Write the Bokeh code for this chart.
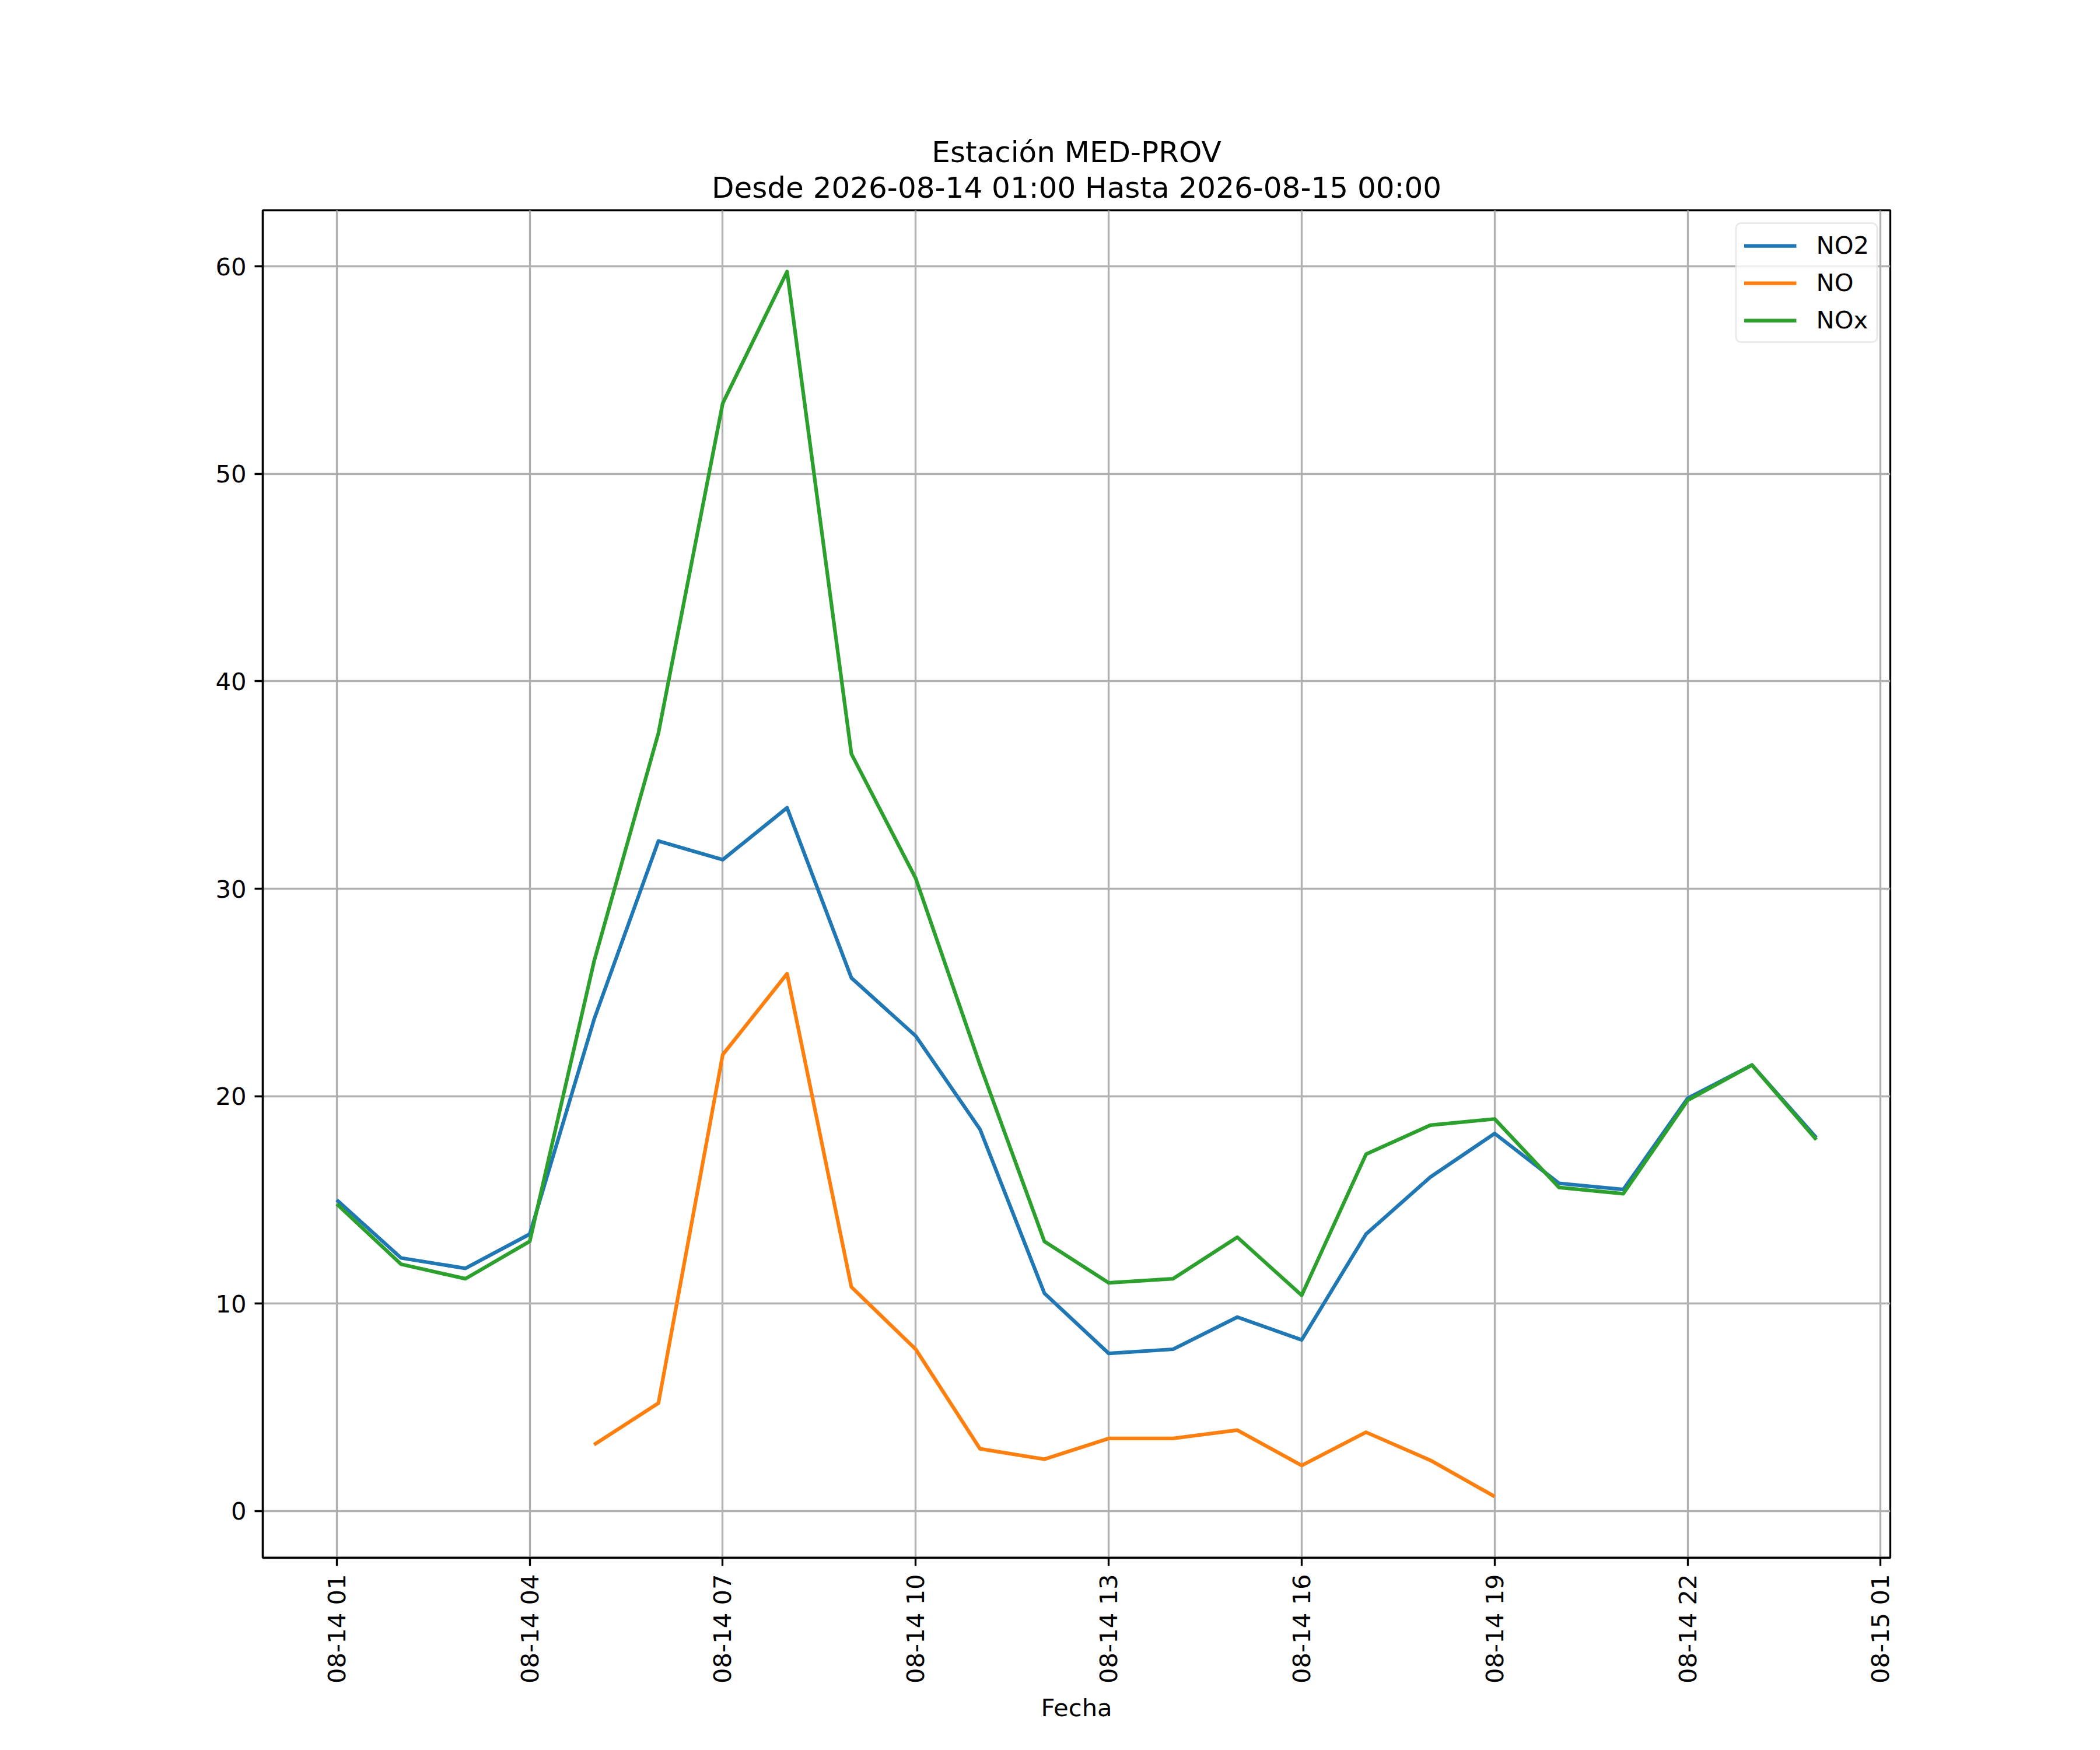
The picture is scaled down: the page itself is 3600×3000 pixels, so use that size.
import numpy as np
import pandas as pd
from bokeh.plotting import figure
from bokeh.models import (FixedTicker, DatetimeTickFormatter, Title, Range1d,
                          LinearAxis)
from bokeh.embed import file_html
from bokeh.resources import INLINE

nan = float("nan")

# ---- data ----
times = pd.date_range("2026-08-14 01:00", "2026-08-15 00:00", freq="h")
no2 = [15.0, 12.2, 11.7, 13.35, 23.7, 32.3, 31.4, 33.9, 25.7, 22.9, 18.4, 10.5,
       7.6, 7.8, 9.35, 8.25, 13.35, 16.1, 18.2, 15.8, 15.5, 19.9, 21.5, 18.0]
no = [nan, nan, nan, nan, 3.2, 5.2, 22.0, 25.9, 10.8, 7.8, 3.0, 2.5,
      3.5, 3.5, 3.9, 2.2, 3.8, 2.45, 0.7, nan, nan, nan, nan, nan]
nox = [14.8, 11.9, 11.2, 13.0, 26.5, 37.5, 53.4, 59.75, 36.5, 30.5, 21.5, 13.0,
       11.0, 11.2, 13.2, 10.4, 17.2, 18.6, 18.9, 15.6, 15.3, 19.8, 21.5, 17.9]
series_names = ["NO2", "NO", "NOx"]
x_tick_times = pd.date_range("2026-08-14 01:00", "2026-08-15 01:00", freq="3h")
y_ticks = [0, 10, 20, 30, 40, 50, 60]
title_line1 = "Estación MED-PROV"
title_line2 = "Desde 2026-08-14 01:00 Hasta 2026-08-15 00:00"
x_label = "Fecha"

# ---- styling ----
FONT = "DejaVu Sans"
PX = 300 / 72.0  # px per point
colors = ["#1f77b4", "#ff7f0e", "#2ca02c"]

def ms(ts):
    return (pd.Timestamp(ts) - pd.Timestamp("1970-01-01")) / pd.Timedelta(milliseconds=1)

x_ms = [ms(t) for t in times]
span = x_ms[-1] - x_ms[0]
x_start = x_ms[0] - 0.05 * span
x_end = x_ms[-1] + 0.05 * span

all_vals = [v for v in no2 + no + nox if not np.isnan(v)]
ymin, ymax = min(all_vals), max(all_vals)
yspan = ymax - ymin

p = figure(
    x_axis_type="datetime",
    width=3584, height=2984, title=None,
    output_backend="svg", toolbar_location=None,
    min_border_left=450, min_border_right=344,
    min_border_top=360, min_border_bottom=314,
    x_range=Range1d(x_start, x_end),
    y_range=Range1d(ymin - 0.05 * yspan, ymax + 0.05 * yspan),
)
p.background_fill_color = "white"
p.border_fill_color = "white"
p.outline_line_color = "black"
p.outline_line_width = 0.8 * PX
p.outline_line_alpha = 1.0

for vals, name, c in zip([no2, no, nox], series_names, colors):
    p.line(x_ms, vals, line_color=c, line_width=1.5 * PX, legend_label=name,
           line_join="round")

# axes
for ax in (p.xaxis[0], p.yaxis[0]):
    ax.axis_line_color = "black"
    ax.axis_line_width = 0.8 * PX
    ax.major_tick_line_color = "black"
    ax.major_tick_line_width = 0.8 * PX
    ax.major_tick_out = int(3.5 * PX)
    ax.major_tick_in = 0
    ax.minor_tick_line_color = None
    ax.major_label_text_font = FONT
    ax.major_label_text_font_size = f"{10 * PX:.1f}px"
    ax.major_label_text_color = "black"
    ax.major_label_standoff = int(3.5 * PX)
    ax.axis_label_text_font = FONT
    ax.axis_label_text_font_size = f"{10 * PX:.1f}px"
    ax.axis_label_text_font_style = "normal"
    ax.axis_label_text_color = "black"

p.xaxis.ticker = FixedTicker(ticks=[ms(t) for t in x_tick_times])
fmt = "%m-%d %H"
p.xaxis.formatter = DatetimeTickFormatter(
    microseconds=fmt, milliseconds=fmt, seconds=fmt, minsec=fmt, minutes=fmt,
    hourmin=fmt, hours=fmt, days=fmt, months=fmt, years=fmt)
p.xaxis.major_label_orientation = np.pi / 2
p.xaxis.axis_label = x_label
p.xaxis.axis_label_standoff = 14
p.yaxis.ticker = FixedTicker(ticks=y_ticks)

# grid
for g in (p.xgrid[0], p.ygrid[0]):
    g.grid_line_color = "#b0b0b0"
    g.grid_line_width = 0.8 * PX
p.xgrid.ticker = p.xaxis.ticker
p.ygrid.ticker = p.yaxis.ticker

# legend
lg = p.legend[0]
lg.location = "top_right"
lg.margin = 21
lg.padding = 12
lg.spacing = 15
lg.glyph_width = 90
lg.glyph_height = 46
lg.label_standoff = 34
lg.label_text_font = FONT
lg.label_text_font_size = f"{10 * PX:.1f}px"
lg.label_text_color = "black"
lg.label_height = 46
lg.border_line_color = "#d6d6d6"
lg.border_line_width = 0.8 * PX
lg.background_fill_alpha = 0.8
if "border_radius" in lg.properties():
    lg.border_radius = 10

# title: second line as the label of a bare axis above the frame,
# first line as a Title stacked above it (both centered over the frame)
title_axis = LinearAxis(
    ticker=FixedTicker(ticks=[]), axis_line_color=None,
    major_tick_line_color=None, minor_tick_line_color=None,
    major_label_text_font_size="0px", major_tick_out=0, major_tick_in=0,
    axis_label=title_line2, axis_label_standoff=10,
    axis_label_text_font=FONT, axis_label_text_font_size=f"{12 * PX:.1f}px",
    axis_label_text_font_style="normal", axis_label_text_color="black")
p.add_layout(title_axis, "above")
p.add_layout(Title(
    text=title_line1, align="center", standoff=0,
    text_font=FONT, text_font_size=f"{12 * PX:.1f}px",
    text_font_style="normal", text_color="black"), "above")

open("out.html", "w").write(file_html(p, INLINE))
